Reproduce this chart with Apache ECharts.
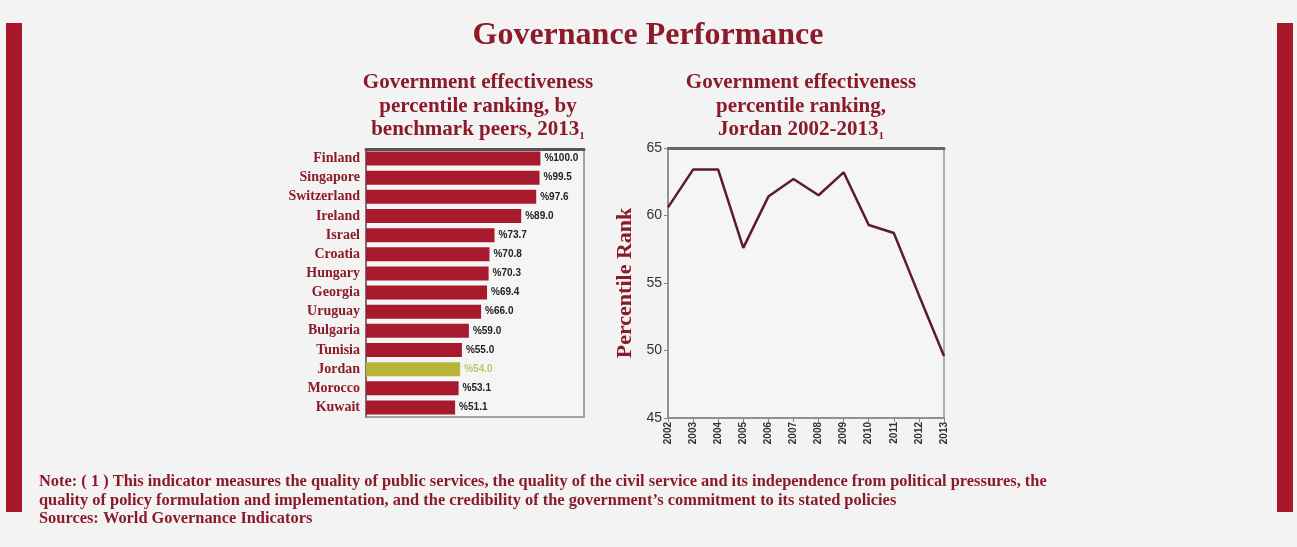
<!DOCTYPE html>
<html>
<head>
<meta charset="utf-8">
<script src="https://cdn.jsdelivr.net/npm/echarts@6/dist/echarts.min.js"></script>
<style>
html,body{margin:0;padding:0;background:#f3f3f3;}
#c{width:1297px;height:547px;}
</style>
</head>
<body>
<div id="c"></div>
<script>
const countries = ["Finland","Singapore","Switzerland","Ireland","Israel","Croatia","Hungary","Georgia","Uruguay","Bulgaria","Tunisia","Jordan","Morocco","Kuwait"];
const peerValues = [100.0,99.5,97.6,89.0,73.7,70.8,70.3,69.4,66.0,59.0,55.0,54.0,53.1,51.1];
const years = ["2002","2003","2004","2005","2006","2007","2008","2009","2010","2011","2012","2013"];
const jordanRank = [60.6,63.4,63.4,57.6,61.4,62.7,61.5,63.2,59.3,58.7,54.1,49.6];
const yTicks = {min:45, max:65, interval:5};

const RED = '#a8192e', DARK = '#8b1a2b', OLIVE = '#b8b536', LINE = '#5e1a2e';
const SERIF = '"Liberation Serif","DejaVu Serif",serif';
const SANS = '"Liberation Sans",Arial,sans-serif';

const chart = echarts.init(document.getElementById('c'), null, {renderer:'canvas'});
const sub = {fontFamily:SERIF, fontWeight:'bold', fontSize:21, color:DARK, lineHeight:23.5,
  rich:{s:{fontFamily:SERIF,fontWeight:'bold',fontSize:11,color:DARK,verticalAlign:'bottom',lineHeight:23.5}}};
chart.setOption({
  backgroundColor:'#f3f3f3',
  animation:false,
  title:[
    {text:'Governance Performance', left:643, top:15, textAlign:'center',
     textStyle:{fontFamily:SERIF, fontWeight:'bold', fontSize:32, color:DARK}},
    {text:'Government effectiveness\npercentile ranking, by\nbenchmark peers, 2013{s|1}', left:473, top:66, textAlign:'center',
     textStyle:sub},
    {text:'Government effectiveness\npercentile ranking,\nJordan 2002-2013{s|1}', left:796, top:66, textAlign:'center',
     textStyle:sub},
    {text:'Note: ( 1 ) This indicator measures the quality of public services, the quality of the civil service and its independence from political pressures, the\nquality of policy formulation and implementation, and the credibility of the government\u2019s commitment to its stated policies\nSources: World Governance Indicators',
     left:34, top:468,
     textStyle:{fontFamily:SERIF, fontWeight:'bold', fontSize:16.4, color:DARK, lineHeight:18.5}}
  ],
  graphic:[
    {type:'rect', shape:{x:6,y:23,width:16,height:489}, style:{fill:'#a8182a'}},
    {type:'rect', shape:{x:1277,y:23,width:16,height:489}, style:{fill:'#a8182a'}}
  ],
  grid:[
    {left:366, top:149, width:218, height:268, show:true, borderColor:'#888', borderWidth:1.5, backgroundColor:'#f5f5f5'},
    {left:668, top:148, width:276, height:270, show:true, borderColor:'#999', borderWidth:1.5, backgroundColor:'#f5f5f5'}
  ],
  xAxis:[
    {gridIndex:0, type:'value', min:0, max:125, position:'top', splitLine:{show:false},
     axisLabel:{show:false}, axisTick:{show:false}, axisLine:{show:true, lineStyle:{color:'#555', width:3}}},
    {gridIndex:1, type:'category', data:years, boundaryGap:false,
     axisLine:{lineStyle:{color:'#888', width:1.5}}, axisTick:{show:true, length:4, lineStyle:{color:'#888'}},
     axisLabel:{rotate:90, fontSize:10, fontWeight:'bold', color:'#333', margin:4, fontFamily:SANS}},
    {gridIndex:1, type:'category', data:years, boundaryGap:false, position:'top',
     axisLine:{show:true, lineStyle:{color:'#666', width:3}}, axisTick:{show:false}, axisLabel:{show:false}}
  ],
  yAxis:[
    {gridIndex:0, type:'category', data:countries, inverse:true,
     axisLine:{show:true, lineStyle:{color:'#666', width:1.5}}, axisTick:{show:false},
     axisLabel:{fontFamily:SERIF, fontWeight:'bold', fontSize:14, color:DARK, margin:6}},
    {gridIndex:1, type:'value', min:yTicks.min, max:yTicks.max, interval:yTicks.interval,
     name:'Percentile Rank', nameLocation:'middle', nameGap:32, nameRotate:90,
     nameTextStyle:{fontFamily:SERIF, fontWeight:'bold', fontSize:22, color:DARK},
     splitLine:{show:false},
     axisLine:{show:true, lineStyle:{color:'#888', width:1.5}}, axisTick:{show:true, length:4, lineStyle:{color:'#888'}},
     axisLabel:{fontSize:14, color:'#333', margin:6, fontFamily:SANS}}
  ],
  series:[
    {type:'bar', xAxisIndex:0, yAxisIndex:0, barWidth:14,
     data:peerValues.map((v,i)=>({value:v, itemStyle:{color: countries[i]==='Jordan'?OLIVE:RED},
       label:{color: countries[i]==='Jordan'?'#c6c46a':'#222'}})),
     label:{show:true, position:'right', distance:4, fontSize:10, fontWeight:'bold', fontFamily:SANS,
       formatter:p=>'%'+p.value.toFixed(1)}},
    {type:'line', xAxisIndex:1, yAxisIndex:1, data:jordanRank, symbol:'none',
     lineStyle:{color:LINE, width:2.5}}
  ]
});
</script>
</body>
</html>
